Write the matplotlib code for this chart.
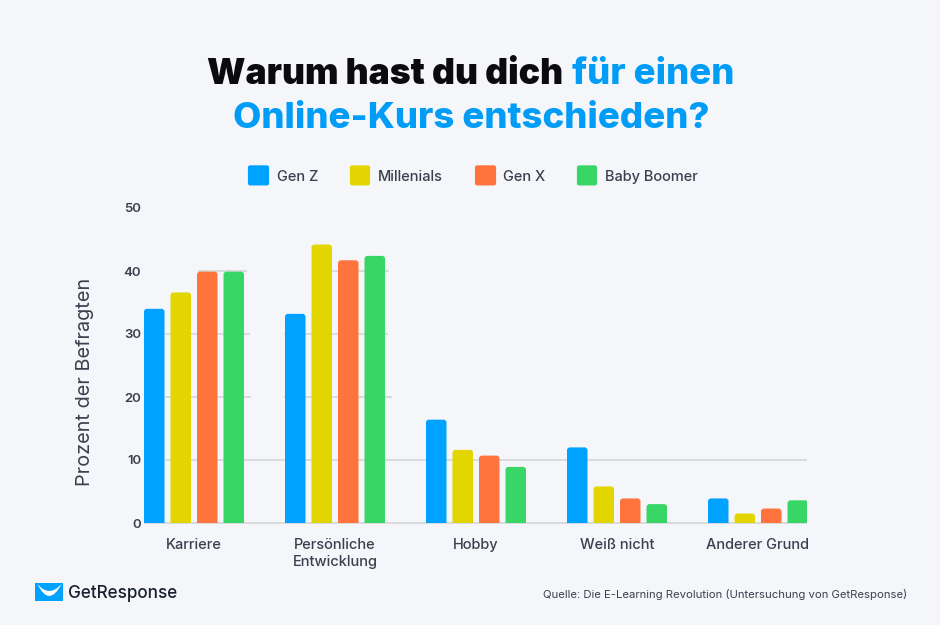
import matplotlib
matplotlib.use("Agg")
import matplotlib.pyplot as plt
from matplotlib.patches import FancyBboxPatch, PathPatch, Rectangle
from matplotlib.path import Path

CATEGORIES = ["Karriere", "Persönliche\nEntwicklung", "Hobby", "Weiß nicht", "Anderer Grund"]
SERIES = ["Gen Z", "Millenials", "Gen X", "Baby Boomer"]
GEN_Z = [34.0, 33.2, 16.4, 12.0, 3.9]
MILLENIALS = [36.6, 44.2, 11.6, 5.8, 1.5]
GEN_X = [39.9, 41.7, 10.7, 3.9, 2.3]
BOOMER = [39.9, 42.4, 8.9, 3.0, 3.6]
COLORS = ["#00a2ff", "#e3d600", "#ff733c", "#38d666"]
Y_TICKS = [0, 10, 20, 30, 40, 50]

BG = "#f5f6fa"
TEXT = "#3b404d"
W, H = 940, 625

plt.rcParams["font.family"] = ["Inter", "DejaVu Sans"]

fig = plt.figure(figsize=(W / 100, H / 100), dpi=100, facecolor=BG)


def px_axes(x0, y0, x1, y1):
    # pixel box measured from the top left
    return fig.add_axes([x0 / W, 1 - y1 / H, (x1 - x0) / W, (y1 - y0) / H])


ax = px_axes(130, 208, 807, 523)
ax.set_facecolor("none")
ax.set_ylim(0, 50)
# one category step is 141 px, first group centre at 194 px
ax.set_xlim((130 - 194) / 141, (807 - 194) / 141)

px_x = 1 / 141
px_y = 50 / 315
bar_w = 20.5 * px_x
step = 26.5 * px_x
radius = 3 * px_x

for s, values in enumerate([GEN_Z, MILLENIALS, GEN_X, BOOMER]):
    for c, v in enumerate(values):
        x = c + (s - 1.5) * step - bar_w / 2
        # starts below zero so only the top corners stay round
        bar = FancyBboxPatch(
            (x + radius, -2 + radius * px_y / px_x),
            bar_w - 2 * radius,
            v + 2 - 2 * radius * px_y / px_x,
            boxstyle=f"round,pad={radius},rounding_size={radius}",
            mutation_aspect=px_y / px_x,
            facecolor=COLORS[s],
            edgecolor="none",
            zorder=3,
        )
        ax.add_patch(bar)

# the grid lines are only partly there in the original, spans in px
grid_spans = {
    0: [(144, 807)],
    10: [(165, 807)],
    20: [(165, 251), (284, 392)],
    30: [(165, 250), (284, 388)],
    40: [(198, 247), (332, 389)],
}
for level, spans in grid_spans.items():
    for x0, x1 in spans:
        ax.plot(
            [(x0 - 194) / 141, (x1 - 194) / 141],
            [level, level],
            color="#d2d3d6",
            linewidth=1.1,
            zorder=1,
            clip_on=False,
            solid_capstyle="butt",
        )

ax.set_yticks(Y_TICKS)
ax.set_yticklabels([str(t) for t in Y_TICKS], fontsize=9.5, fontweight="semibold", color=TEXT)
ax.set_xticks(range(len(CATEGORIES)))
ax.set_xticklabels(CATEGORIES, fontsize=10.5, fontweight="medium", color=TEXT, linespacing=1.32, va="top")
ax.tick_params(axis="both", length=0)
ax.tick_params(axis="x", pad=10.5)
ax.tick_params(axis="y", pad=-8)
for label in ax.get_yticklabels():
    label.set_ha("right")
for spine in ax.spines.values():
    spine.set_visible(False)
ax.set_ylabel("Prozent der Befragten", fontsize=14.3, color=TEXT, labelpad=0)
ax.yaxis.set_label_coords((94.5 - 130) / 677, (523 - 381.5) / 315)


def px_text(x, y, s, **kw):
    return fig.text(x / W, 1 - y / H, s, **kw)


# title, first line has two colours
px_text(207, 75, "Warum hast du dich", fontsize=25.6, fontweight="black", color="#0b0b0f", va="center", ha="left")
px_text(572, 75, "für einen", fontsize=26.4, fontweight="heavy", color="#009cf5", va="center", ha="left")
px_text(471.5, 118, "Online-Kurs entschieden?", fontsize=26.4, fontweight="heavy", color="#009cf5", va="center", ha="center")

# legend
legend_x = [248, 350, 475, 577]
legend_w = [21, 20, 21, 20]
label_x = [277, 378, 503, 605]
for s, name in enumerate(SERIES):
    fig.add_artist(FancyBboxPatch(
        ((legend_x[s] + 2) / W, 1 - 183.4 / H),
        (legend_w[s] - 4) / W, 16 / H,
        boxstyle="round,pad=0,rounding_size=0",
        facecolor=COLORS[s], edgecolor=COLORS[s], linewidth=3, joinstyle="round",
        transform=fig.transFigure,
    ))
    px_text(label_x[s], 177, name, fontsize=10.5, fontweight="medium", color=TEXT, va="center", ha="left")

# logo and source
logo = px_axes(35, 583, 63, 601)
logo.set_xlim(0, 28)
logo.set_ylim(18, 0)
logo.axis("off")
logo.add_patch(Rectangle((0, 0), 28, 18, facecolor="#00a2ff", edgecolor="none"))
smile = Path(
    [(2.5, 1), (14, 25), (26.5, 1), (14, 15), (2.5, 1)],
    [Path.MOVETO, Path.CURVE3, Path.CURVE3, Path.CURVE3, Path.CURVE3],
)
logo.add_patch(PathPatch(smile, facecolor="white", edgecolor="none"))
px_text(68, 593.5, "GetResponse", fontsize=12.3, fontweight="medium", color="#17202c", va="center", ha="left")
px_text(907, 594, "Quelle: Die E-Learning Revolution (Untersuchung von GetResponse)", fontsize=8.15, color=TEXT, va="center", ha="right")

fig.savefig("out.png", dpi=100, facecolor=BG)
